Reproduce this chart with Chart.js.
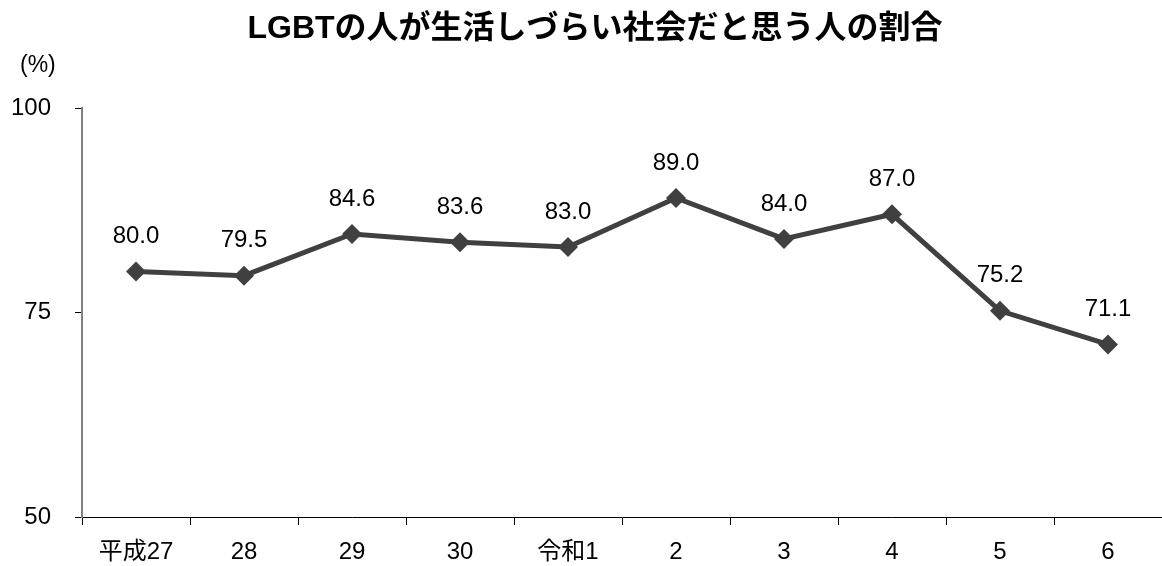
<!DOCTYPE html>
<html><head><meta charset="utf-8">
<script src="https://cdn.jsdelivr.net/npm/chart.js@4"></script>
<style>html,body{margin:0;padding:0;background:#fff}canvas{display:block}</style>
</head><body>
<canvas id="c" width="1162" height="566"></canvas>
<script>
const categories = ["平成27","28","29","30","令和1","2","3","4","5","6"];
const values = [80.0,79.5,84.6,83.6,83.0,89.0,84.0,87.0,75.2,71.1];
const yTicks = [50,75,100];
const titleText = "LGBTの人が生活しづらい社会だと思う人の割合";
const unitText = "(%)";

const FONT = '"Liberation Sans", Arial, "Noto Sans CJK JP", sans-serif';

const overlay = {
  id: 'overlay',
  afterDatasetsDraw(chart) {
    const ctx = chart.ctx;
    const meta = chart.getDatasetMeta(0);
    ctx.save();
    ctx.fillStyle = '#000';
    ctx.font = '24px ' + FONT;
    ctx.textAlign = 'center';
    ctx.textBaseline = 'middle';
    meta.data.forEach((p, i) => {
      ctx.fillText(values[i].toFixed(1), p.x, p.y - 35);
    });
    ctx.font = 'bold 32px ' + FONT;
    ctx.fillText(titleText, 595, 29);
    ctx.font = '23px ' + FONT;
    ctx.textAlign = 'left';
    ctx.fillText(unitText, 20, 66);
    ctx.restore();
  }
};

new Chart(document.getElementById('c'), {
  type: 'line',
  data: {
    labels: categories,
    datasets: [{
      data: values,
      borderColor: '#404040',
      backgroundColor: '#404040',
      borderWidth: 5,
      pointStyle: 'rectRot',
      pointRadius: 10,
      pointHoverRadius: 10,
      pointBackgroundColor: '#404040',
      pointBorderColor: '#404040',
      pointBorderWidth: 0,
      tension: 0,
      clip: false
    }]
  },
  options: {
    responsive: false,
    animation: false,
    events: [],
    layout: { autoPadding: false, padding: { top: 108, right: -7, left: 0, bottom: 0 } },
    plugins: { legend: { display: false }, title: { display: false }, tooltip: { enabled: false } },
    scales: {
      x: {
        offset: true,
        grid: { offset: true, drawOnChartArea: false, drawTicks: true, tickLength: 8, color: '#000', lineWidth: 1 },
        border: { color: '#000', width: 1 },
        ticks: { color: '#000', font: { size: 24, family: FONT }, padding: 13, maxRotation: 0, autoSkip: false },
        afterFit(s) { s.height = 49; s.paddingLeft = 0; s.paddingRight = 0; }
      },
      y: {
        min: 50, max: 100,
        afterBuildTicks(s) { s.ticks = yTicks.map(v => ({ value: v })); },
        grid: { drawOnChartArea: false, drawTicks: true, tickLength: 7, color: '#000' },
        border: { color: '#808080', width: 2 },
        ticks: { color: '#000', font: { size: 24, family: FONT }, padding: 24 },
        afterFit(s) { s.width = 82; s.paddingTop = 0; s.paddingBottom = 0; }
      }
    }
  },
  plugins: [overlay]
});
</script>
</body></html>
